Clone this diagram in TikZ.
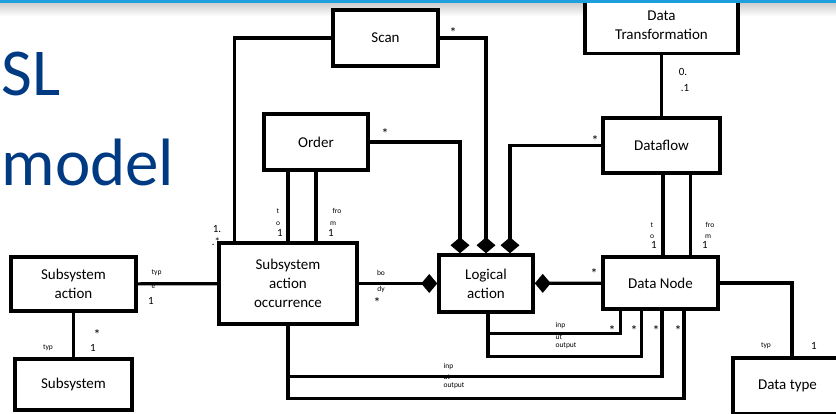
\documentclass[tikz,border=0pt]{standalone}
\usepackage{fontspec}
\setmainfont{Carlito}
\usetikzlibrary{arrows.meta,positioning,calc}
\definecolor{titleblue}{RGB}{0,58,130}
\definecolor{barblue}{RGB}{30,158,220}

\begin{document}
\begin{tikzpicture}[x=1pt, y=-1pt, line width=3.2pt, font=\fontsize{15}{19}\selectfont]
\tikzstyle{box}=[draw, fill=white, align=center, inner sep=2pt, line width=3.5pt]
\tikzstyle{role}=[inner sep=0pt, font=\fontsize{7.5}{7.5}\selectfont]
\tikzstyle{mult}=[inner sep=0pt, font=\fontsize{11}{11}\selectfont]
\tikzstyle{star}=[inner sep=0pt, font=\fontsize{14}{14}\selectfont]
\tikzstyle{comp}=[-{Diamond[length=16pt,width=19pt]}]
\useasboundingbox (0,0) rectangle (836,413);
\shade[top color=black!20, bottom color=white] (0,3) rectangle (836,16);
% title
\node[anchor=base west, inner sep=0pt, text=titleblue, font=\fontsize{67}{67}\selectfont] (titleA) at (0,95) {SL};
\node[anchor=base west, inner sep=0pt, text=titleblue, font=\fontsize{67}{67}\selectfont] (titleB) at (0,185) {model};
% classes
\node[box, minimum width=105pt, minimum height=56pt] (scan) at (385.5,38) {Scan};
\node[box, minimum width=153pt, minimum height=57pt] (dtrans) at (661.5,25) {Data\\Transformation};
\node[box, minimum width=117pt, minimum height=55pt] (dataflow) at (661.5,145.5) {Dataflow};
\node[box, minimum width=104pt, minimum height=56pt] (order) at (316,142) {Order};
\node[box, minimum width=138pt, minimum height=81pt] (sao) at (288,283.5) {Subsystem\\action\\occurrence};
\node[box, minimum width=94pt, minimum height=57pt] (logical) at (486,283.5) {Logical\\action};
\node[box, minimum width=115pt, minimum height=52pt] (datanode) at (660.5,283) {Data Node};
\node[box, minimum width=125pt, minimum height=54pt] (ssaction) at (73.5,284) {Subsystem\\action};
\node[box, minimum width=117pt, minimum height=51pt] (subsystem) at (73.5,384.5) {Subsystem};
\node[box, minimum width=109pt, minimum height=56pt] (datatype) at (787.5,386) {Data type};
% associations
\draw (scan.west) -| ([xshift=17pt]sao.north west);
\draw[comp] (scan.east) -| (logical.north);
\draw[comp] (order.east) -| ([xshift=-26pt]logical.north);
\draw[comp] (dataflow.west) -| ([xshift=24pt]logical.north);
\draw (order.south) -- (order.south |- sao.north);
\draw (sao.north) -- (sao.north |- order.south);
\draw ([xshift=1.5pt]dataflow.south) -- ([xshift=1.5pt]dataflow.south |- datanode.north);
\draw ([xshift=29pt]dataflow.south) -- ([xshift=29pt]dataflow.south |- datanode.north);
\draw (dtrans) -- (dataflow);
\draw[comp] (sao) -- (logical);
\draw[comp] (datanode) -- (logical);
\draw ([xshift=2pt]logical.south) -- ++(0,20) -| ([xshift=-40pt]datanode.south);
\draw ([xshift=2pt]logical.south) -- ++(0,43) -| ([xshift=-19pt]datanode.south);
\draw (sao.south) -- ++(0,51) -| ([xshift=1.5pt]datanode.south);
\draw (sao.south) -- ++(0,73) -| ([xshift=23.5pt]datanode.south);
\draw (ssaction) -- (sao);
\draw (ssaction) -- (subsystem);
\draw (datanode.east) -| ([xshift=4.5pt]datatype.north);
% labels
\node[star] (m1) at (453,33) {*};
\node[star] (m2) at (385,134) {*};
\node[star] (m3) at (595,141) {*};
\node[mult] (m4) at (683,72) {0.};
\node[mult] (m5) at (685,88) {.1};
\node[mult] (m6) at (217,229) {1.};
\node[mult] (m7) at (216,242) {.*};
\node[role] (r1) at (278,211) {t};
\node[role] (r2) at (278,224) {o};
\node[mult] (m8) at (280,233) {1};
\node[role] (r3) at (337,211) {fro};
\node[role] (r4) at (333,224) {m};
\node[mult] (m9) at (331,233) {1};
\node[role] (r5) at (381,273) {bo};
\node[role] (r6) at (381,289) {dy};
\node[star] (m10) at (377,303) {*};
\node[star] (m11) at (594,274) {*};
\node[role] (r7) at (652,225) {t};
\node[role] (r8) at (652,237) {o};
\node[mult] (m12) at (654,245) {1};
\node[role] (r9) at (710,225) {fro};
\node[role] (r10) at (708,237) {m};
\node[mult] (m13) at (705,245) {1};
\node[role, anchor=west] (r11) at (554,326) {inp};
\node[role, anchor=west] (r12) at (554,337) {ut};
\node[role, anchor=west] (r13) at (554,346) {output};
\node[role, anchor=west] (r14) at (442,367) {inp};
\node[role, anchor=west] (r15) at (442,377) {ut};
\node[role, anchor=west] (r16) at (442,386) {output};
\node[star] (m14) at (612,331) {*};
\node[star] (m15) at (634,331) {*};
\node[star] (m16) at (656,331) {*};
\node[star] (m17) at (678,331) {*};
\node[role, anchor=west] (r17) at (150,273) {typ};
\node[role, anchor=west] (r18) at (150,287) {e};
\node[mult] (m18) at (151,301) {1};
\node[role] (r19) at (48,348) {typ};
\node[star] (m19) at (97,335) {*};
\node[mult] (m20) at (93,348) {1};
\node[role] (r20) at (766,346) {typ};
\node[mult] (m21) at (814,346) {1};
\draw[barblue, line width=2.5pt] (0,1.5) -- (836,1.5);
\end{tikzpicture}
\end{document}
